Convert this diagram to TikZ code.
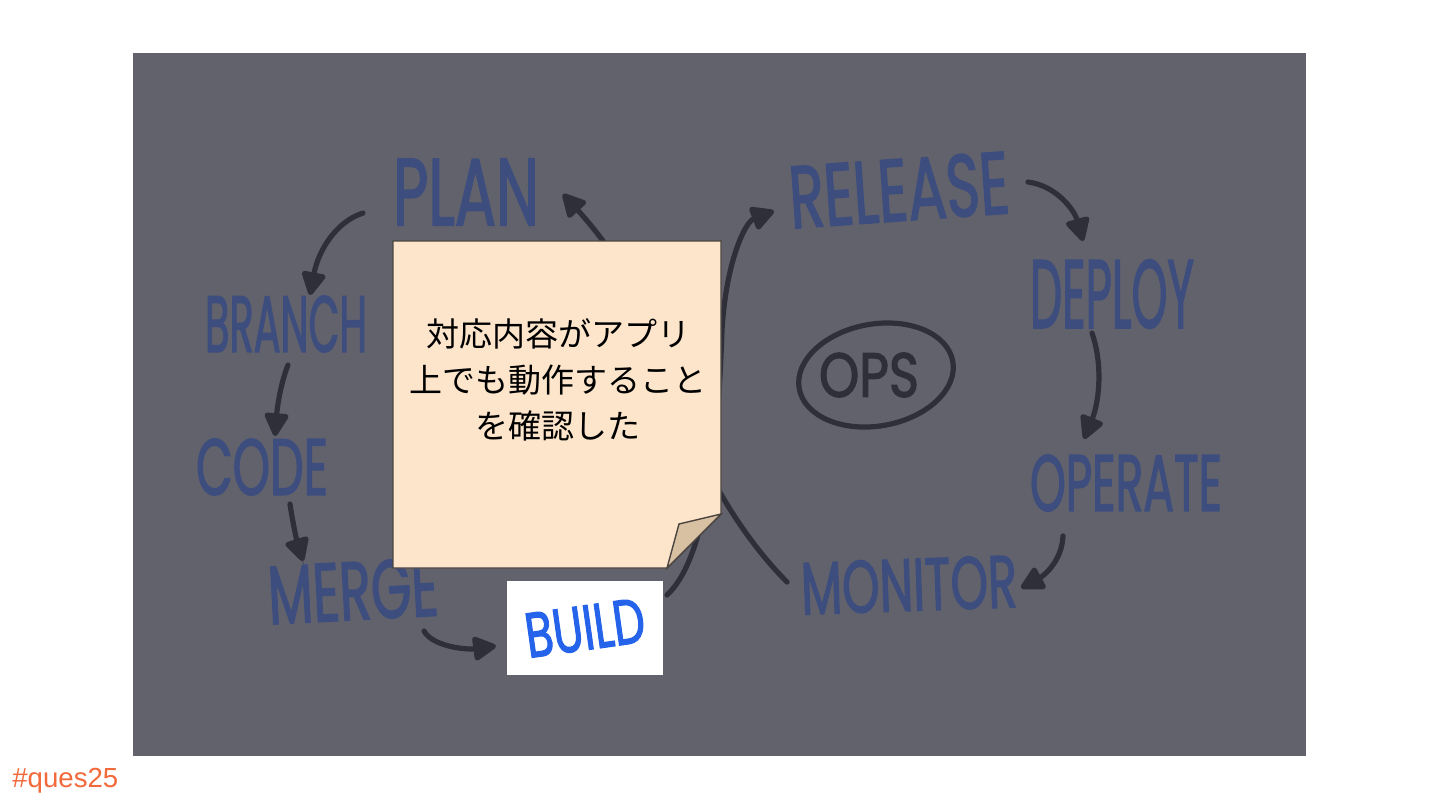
\documentclass[tikz,border=0pt]{standalone}
\usepackage{fontspec}
\usepackage{graphicx}
\newfontfamily\handfont{Poppins}[FakeBold=2.2]
\newfontfamily\jpfont{Noto Sans CJK JP}
\newfontfamily\tagfont{Liberation Sans}
\usetikzlibrary{arrows.meta}
\definecolor{bggray}{HTML}{62626C}
\definecolor{handblue}{HTML}{3C4D7E}
\definecolor{inkdark}{HTML}{2E2F38}
\definecolor{notefill}{HTML}{FCE5CB}
\definecolor{flapfill}{HTML}{D8C0A2}
\definecolor{noteline}{HTML}{4A4540}
\definecolor{buildblue}{HTML}{2563EB}
\definecolor{tagorange}{HTML}{F26A3C}
\newcommand{\hw}[3]{\resizebox{#1pt}{#2pt}{\handfont #3}}
\tikzset{
  hand/.style={inner sep=0pt, text=handblue},
  ink/.style={draw=inkdark, line width=2.6pt, line cap=round},
  inkarrow/.style={ink, -{Triangle[length=13pt,width=13pt,round]}},
}
\begin{document}
\begin{tikzpicture}[x=0.5pt,y=-0.5pt]
\useasboundingbox (0,0) rectangle (1440,810);
\fill[white] (0,0) rectangle (1440,810);
\fill[bggray] (133,53) rectangle (1306,756);

% handwritten words
\node[hand] (plan) at (466,192) {\hw{73}{33}{PLAN}};
\node[hand] (branch) at (286,324) {\hw{81}{28}{BRANCH}};
\node[hand] (code) at (262,467) {\hw{66}{28}{CODE}};
\node[hand, rotate=3] (merge) at (353,591) {\hw{85}{29}{MERGE}};
\node[hand, rotate=4] (release) at (899,190) {\hw{110}{31}{RELEASE}};
\node[hand] (deploy) at (1112,294) {\hw{82}{34}{DEPLOY}};
\node[hand] (operate) at (1126,483) {\hw{96}{28}{OPERATE}};
\node[hand, rotate=2] (monitor) at (909,585) {\hw{108}{26}{MONITOR}};
\node[inner sep=0pt, text=inkdark] (ops) at (869,375) {\hw{50}{22}{OPS}};
\draw[ink, rotate around={10:(876,375)}] (876,375) ellipse [x radius=78, y radius=51];

% arrow end points
\coordinate (pb1) at (363,213);  \coordinate (pb2) at (310,295);
\coordinate (bc1) at (288,365);  \coordinate (bc2) at (275,436);
\coordinate (cm1) at (290,504);  \coordinate (cm2) at (303,561);
\coordinate (mb1) at (424,631);  \coordinate (mb2) at (496,646);
\coordinate (rd1) at (1028,182); \coordinate (rd2) at (1083,241);
\coordinate (do1) at (1092,333); \coordinate (do2) at (1084,439);
\coordinate (om1) at (1063,536); \coordinate (om2) at (1021,588);
\coordinate (mo1) at (787,582);  \coordinate (mo2) at (680,400);  \coordinate (pl2) at (563,194);
\coordinate (bu1) at (667,595);  \coordinate (bu2) at (722,330);  \coordinate (re2) at (774,211);

\draw[inkarrow] (pb1) .. controls (335,222) and (318,252) .. (pb2);
\draw[inkarrow] (bc1) .. controls (280,385) and (277,410) .. (bc2);
\draw[inkarrow] (cm1) .. controls (293,525) and (298,545) .. (cm2);
\draw[inkarrow] (mb1) .. controls (432,646) and (465,650) .. (mb2);
\draw[inkarrow] (rd1) .. controls (1058,186) and (1075,212) .. (rd2);
\draw[inkarrow] (do1) .. controls (1104,368) and (1098,405) .. (do2);
\draw[inkarrow] (om1) .. controls (1062,560) and (1045,575) .. (om2);
\draw[inkarrow] (mo1) .. controls (745,540) and (700,470) .. (mo2)
   .. controls (660,330) and (625,262) .. (pl2);
\draw[inkarrow] (bu1) .. controls (705,560) and (718,450) .. (bu2)
   .. controls (726,262) and (745,222) .. (re2);

% sticky note
\coordinate (n1) at (393,241); \coordinate (n2) at (721,241);
\coordinate (n3) at (721,514); \coordinate (n4) at (667,568);
\coordinate (n5) at (393,568); \coordinate (nf) at (679,524);
\draw[fill=notefill, draw=noteline, line width=0.7pt]
  (n1) -- (n2) -- (n3) -- (n4) -- (n5) -- cycle;
\draw[fill=flapfill, draw=noteline, line width=0.7pt]
  (n3) -- (nf) -- (n4) -- cycle;
\node[inner sep=0pt, align=center, font=\jpfont\fontsize{16.5pt}{23pt}\selectfont] (notetext) at (558,380)
  {対応内容がアプリ\\上でも動作すること\\を確認した};

% build box with its word
\node[fill=white, minimum width=78pt, minimum height=47pt, inner sep=0pt, text=buildblue] (build) at (585,628)
  {\rotatebox{8}{\hw{60}{22}{BUILD}}};

% tag
\node[anchor=base west, inner sep=0pt, text=tagorange, font=\tagfont\fontsize{13.8pt}{16pt}\selectfont] (tag) at (12,787) {\#ques25};
\end{tikzpicture}
\end{document}
